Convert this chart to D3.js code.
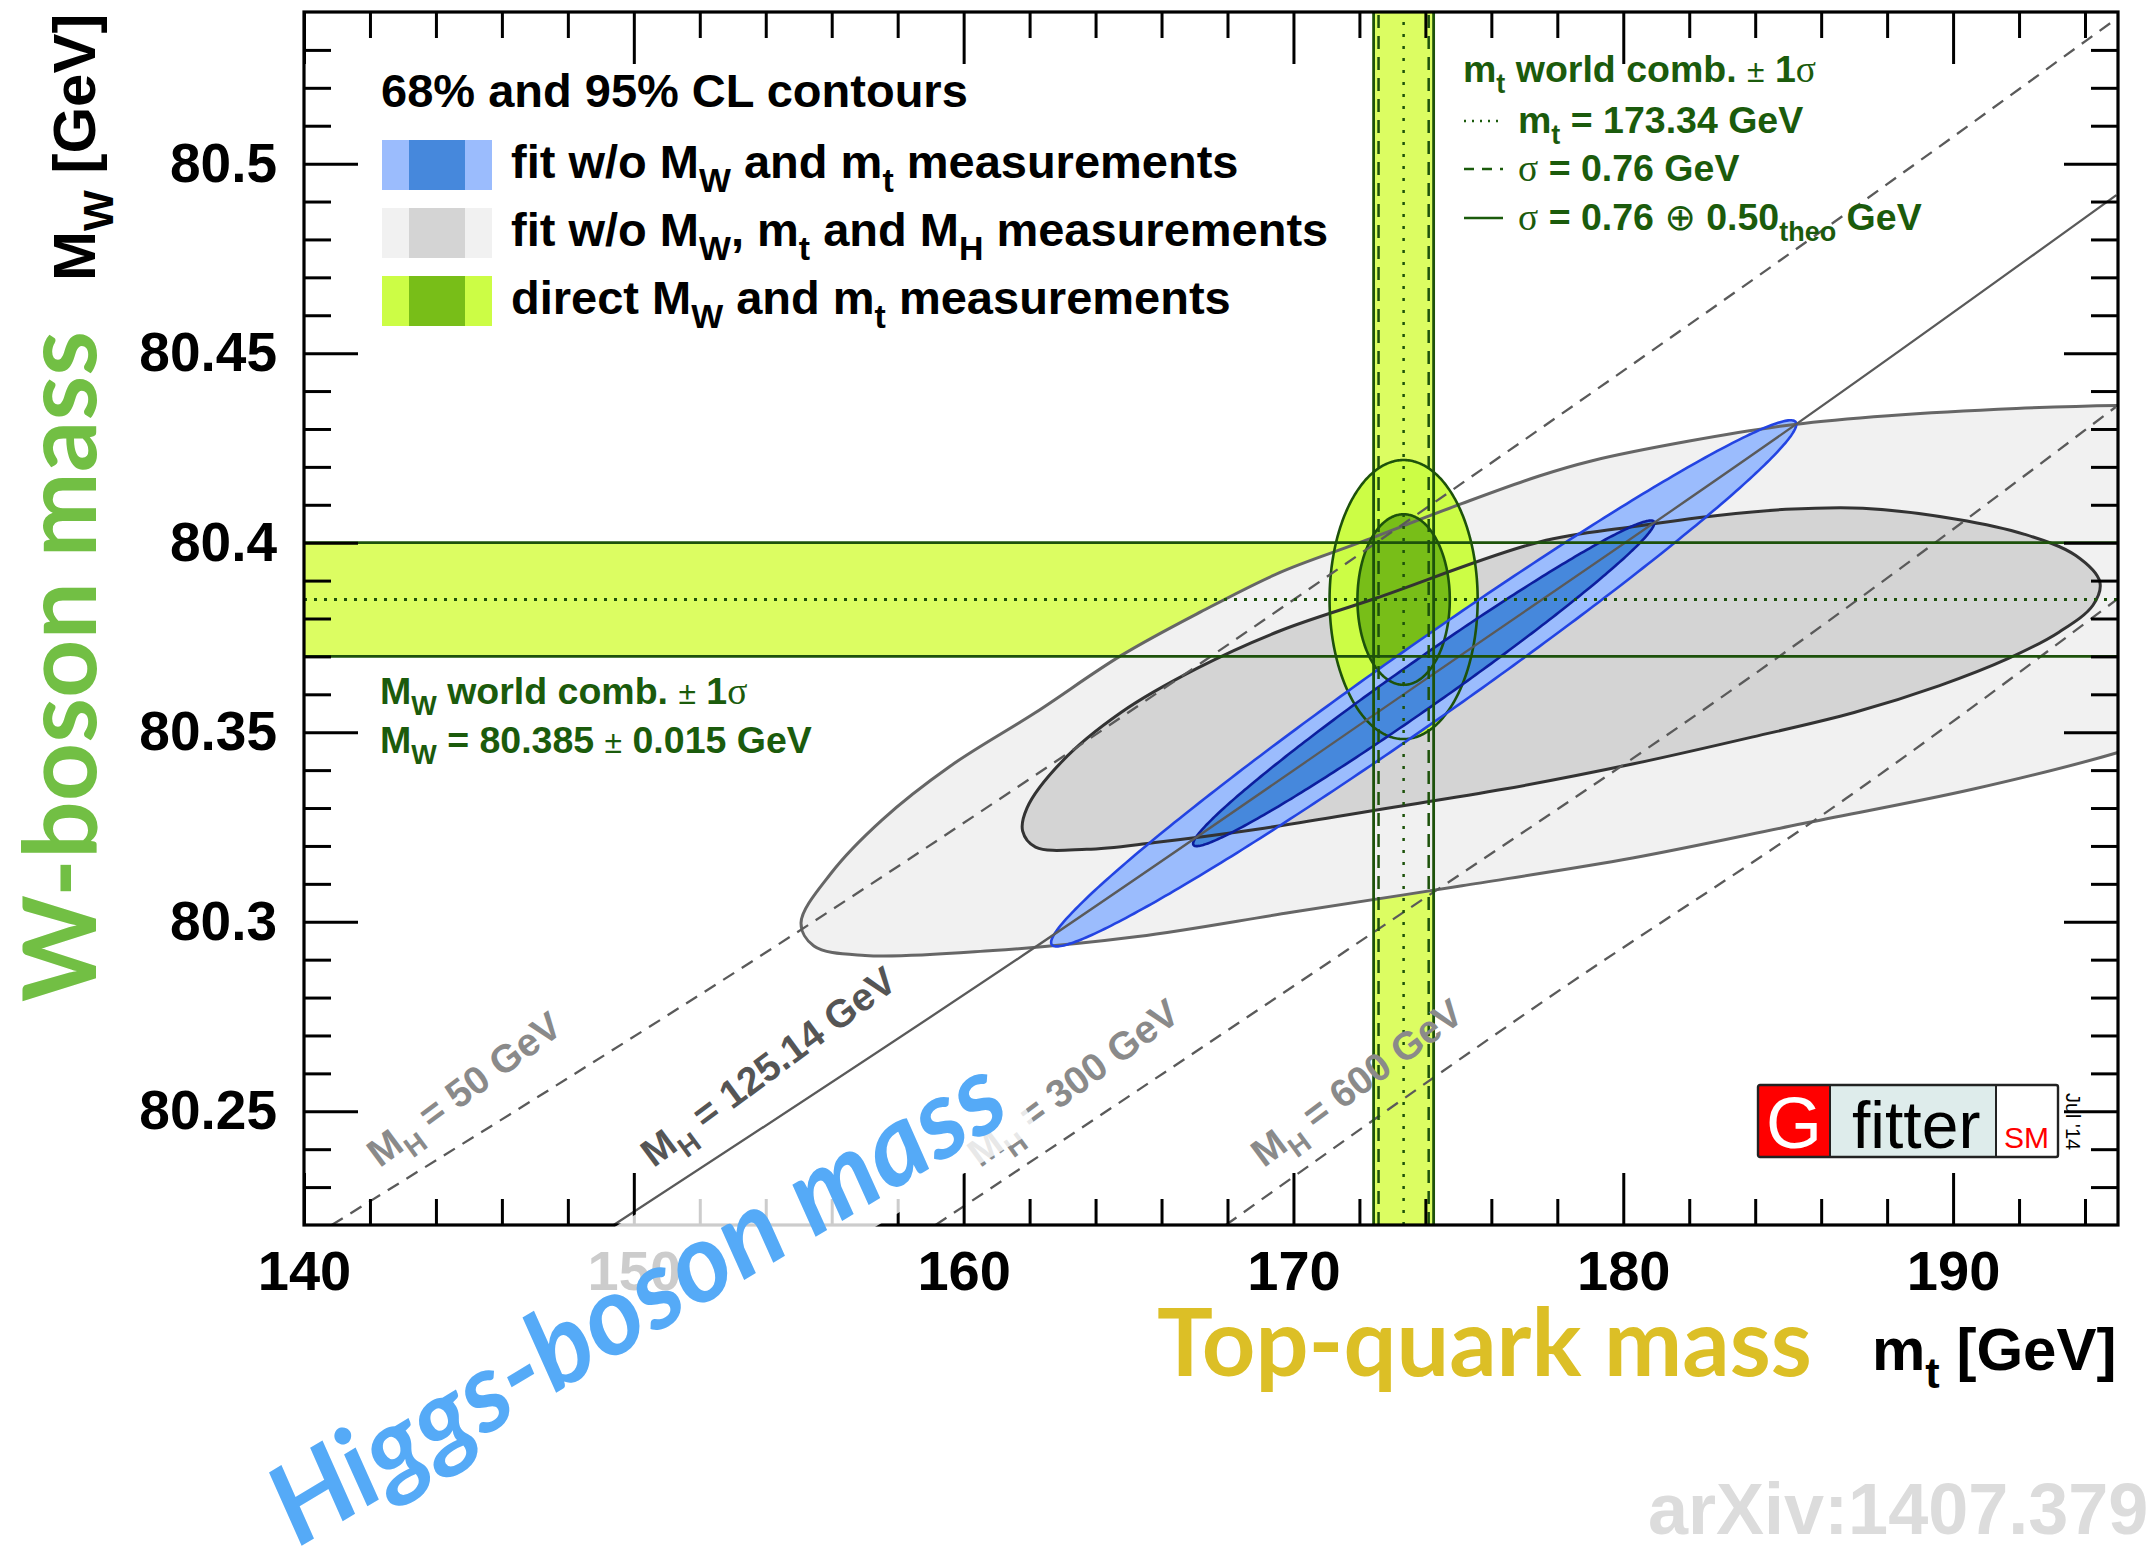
<!DOCTYPE html>
<html>
<head>
<meta charset="utf-8">
<script src="https://cdn.jsdelivr.net/npm/d3@7"></script>
<style>
  html, body { margin: 0; padding: 0; background: #ffffff; overflow: hidden; }
  svg { display: block; }
</style>
</head>
<body>
<svg id="chart" width="2149" height="1552"></svg>
<script>
// ---------------- data ----------------
const mtDomain = [140, 195];
const mwDomain = [80.22, 80.54];
const mtMajorTicks = [140, 150, 160, 170, 180, 190];
const mtTickLabels = ["140", "150", "160", "170", "180", "190"];
const mtMinorTicks = [142, 144, 146, 148, 152, 154, 156, 158, 162, 164, 166, 168, 172, 174, 176, 178,
                      182, 184, 186, 188, 192, 194];
const mwMajorTicks = [80.25, 80.3, 80.35, 80.4, 80.45, 80.5];
const mwTickLabels = ["80.25", "80.3", "80.35", "80.4", "80.45", "80.5"];
const mwMinorTicks = [80.23, 80.24, 80.26, 80.27, 80.28, 80.29, 80.31, 80.32, 80.33, 80.34, 80.36, 80.37,
                      80.38, 80.39, 80.41, 80.42, 80.43, 80.44, 80.46, 80.47, 80.48, 80.49, 80.51, 80.52, 80.53];

// world averages
const mwWorld = { value: 80.385, sigma: 0.015 };
const mtWorld = { value: 173.34, sigmaExp: 0.76, sigmaTot: 0.91 };

// direct MW / mt measurement contours: half widths [GeV]
const directContours = [
  { cl: 95, dMt: 2.245, dMw: 0.0368 },
  { cl: 68, dMt: 1.40,  dMw: 0.0225 }
];

// fit without MW and mt measurements (gaussian)
const fitNoMwMt = { mt: 173.95, mw: 80.3629, sigmaMt: 4.615, sigmaMw: 0.02835, rho: 0.9847 };
const clRadius = { 68: 1.515, 95: 2.448 };

// fit without MW, mt and MH measurements: contour points [mt, MW]
const fitNoMH95 = [
  [197.5, 80.4362], [194.97, 80.4362], [191.92, 80.4354], [188.04, 80.4335], [185.19, 80.4312],
  [182.0, 80.4268], [179.0, 80.4215], [177.45, 80.4176], [175.1, 80.4103], [172.0, 80.4000],
  [169.58, 80.3921], [167.2, 80.3818], [164.77, 80.3702], [162.18, 80.3552], [159.60, 80.3411],
  [157.53, 80.3269], [155.98, 80.3128], [155.07, 80.2997], [155.46, 80.2936], [157.01, 80.2911],
  [160.89, 80.2924], [165.28, 80.2961], [169.94, 80.3025], [175.11, 80.3095], [180.28, 80.3168],
  [185.45, 80.3259], [190.62, 80.3350], [194.97, 80.3446], [198.5, 80.3550], [200.0, 80.3900],
  [199.5, 80.4200]
];
const fitNoMH68 = [
  [187.26, 80.4091], [190.10, 80.4062], [192.17, 80.4022], [193.72, 80.3966], [194.45, 80.3896],
  [194.24, 80.3835], [193.21, 80.3764], [191.66, 80.3694], [189.59, 80.3623], [187.00, 80.3552],
  [183.90, 80.3487], [180.28, 80.3416], [176.40, 80.3350], [172.52, 80.3295], [168.90, 80.3244],
  [165.80, 80.3209], [163.73, 80.3191], [162.18, 80.3197], [161.79, 80.3239], [161.92, 80.3300],
  [162.96, 80.3421], [164.77, 80.3552], [167.09, 80.3669], [169.58, 80.3767], [172.52, 80.3854],
  [177.46, 80.4002], [180.28, 80.4042], [182.86, 80.4072], [184.93, 80.4088]
];

// SM prediction of MW versus mt for fixed Higgs masses
const higgsLines = [
  { mh: "50",     dashed: true,  labelColor: "#8a8a8a", labelAt: [142.3, 80.235],
    pts: [[140.84, 80.22], [154.2, 80.293], [179.63, 80.4431], [184.73, 80.4743], [194.93, 80.5381]] },
  { mh: "125.14", dashed: false, labelColor: "#555555", labelAt: [150.6, 80.235],
    pts: [[149.39, 80.22], [162.05, 80.2926], [173.95, 80.3636], [185.33, 80.4318], [194.95, 80.4917]] },
  { mh: "300",    dashed: true,  labelColor: "#8a8a8a", labelAt: [160.5, 80.235],
    pts: [[159.15, 80.22], [171.64, 80.2926], [184.73, 80.3700], [194.93, 80.4358]] },
  { mh: "600",    dashed: true,  labelColor: "#8a8a8a", labelAt: [169.1, 80.235],
    pts: [[167.95, 80.22], [177.66, 80.2795], [186.75, 80.3325], [194.93, 80.3848]] }
];

// ---------------- layout & styles ----------------
const plot = { left: 304, right: 2118, top: 12, bottom: 1225 };
const SANS = "'Liberation Sans', Arial, Helvetica, sans-serif";
const SERIF = "'Liberation Serif', 'Times New Roman', serif";
const TITLE = "Lato, 'Open Sans', sans-serif";
const GREEN_TXT = "#1b5b0c";
const col = {
  band: "#dcfd62", bandLine: "#1d520b",
  green95: "#ccfd45", green68: "#78be18", greenLine: "#1d520b",
  blue95: "#9bbcfd", blue68: "#4688dc", blueLine95: "#2344e2", blueLine68: "#0c1e9e",
  gray95: "#f1f1f1", gray68: "#d4d4d4", grayLine95: "#666666", grayLine68: "#333333",
  mhLine: "#5a5a5a"
};

const svg = d3.select("#chart");
const x = d3.scaleLinear().domain(mtDomain).range([plot.left, plot.right]);
const y = d3.scaleLinear().domain(mwDomain).range([plot.bottom, plot.top]);

svg.append("defs").append("clipPath").attr("id", "plotClip")
  .append("rect").attr("x", plot.left).attr("y", plot.top)
  .attr("width", plot.right - plot.left).attr("height", plot.bottom - plot.top);

const area = svg.append("g").attr("clip-path", "url(#plotClip)");

// ----- world-average bands (fills) -----
area.append("rect")
  .attr("x", x(mtDomain[0])).attr("width", x(mtDomain[1]) - x(mtDomain[0]))
  .attr("y", y(mwWorld.value + mwWorld.sigma))
  .attr("height", y(mwWorld.value - mwWorld.sigma) - y(mwWorld.value + mwWorld.sigma))
  .attr("fill", col.band);
area.append("rect")
  .attr("x", x(mtWorld.value - mtWorld.sigmaTot))
  .attr("width", x(mtWorld.value + mtWorld.sigmaTot) - x(mtWorld.value - mtWorld.sigmaTot))
  .attr("y", y(mwDomain[1])).attr("height", y(mwDomain[0]) - y(mwDomain[1]))
  .attr("fill", col.band);

// ----- contour shapes -----
const closedSmooth = d3.line().x(d => x(d[0])).y(d => y(d[1])).curve(d3.curveCatmullRomClosed.alpha(0.5));
const closedLin = d3.line().x(d => x(d[0])).y(d => y(d[1])).curve(d3.curveLinearClosed);

function gaussContour(c, k, n = 360) {
  const s = Math.sqrt(1 - c.rho * c.rho);
  return d3.range(n).map(i => {
    const t = 2 * Math.PI * i / n;
    return [c.mt + k * c.sigmaMt * Math.cos(t),
            c.mw + k * c.sigmaMw * (c.rho * Math.cos(t) + s * Math.sin(t))];
  });
}
function axisContour(cx, cy, a, b, n = 360) {
  return d3.range(n).map(i => {
    const t = 2 * Math.PI * i / n;
    return [cx + a * Math.cos(t), cy + b * Math.sin(t)];
  });
}

const shapes = [
  { d: closedSmooth(fitNoMH95), fill: col.gray95, stroke: col.grayLine95, w: 3 },
  { d: closedSmooth(fitNoMH68), fill: col.gray68, stroke: col.grayLine68, w: 3 },
  { d: closedLin(axisContour(mtWorld.value, mwWorld.value, directContours[0].dMt, directContours[0].dMw)),
    fill: col.green95, stroke: col.greenLine, w: 2.6 },
  { d: closedLin(axisContour(mtWorld.value, mwWorld.value, directContours[1].dMt, directContours[1].dMw)),
    fill: col.green68, stroke: col.greenLine, w: 2.6 },
  { d: closedLin(gaussContour(fitNoMwMt, clRadius[95])), fill: col.blue95, stroke: col.blueLine95, w: 2.6 },
  { d: closedLin(gaussContour(fitNoMwMt, clRadius[68])), fill: col.blue68, stroke: col.blueLine68, w: 2.6 }
];
area.selectAll("path.fill").data(shapes).join("path").attr("class", "fill")
  .attr("d", s => s.d).attr("fill", s => s.fill).attr("stroke", "none");
area.selectAll("path.outline").data(shapes).join("path").attr("class", "outline")
  .attr("d", s => s.d).attr("fill", "none").attr("stroke", s => s.stroke).attr("stroke-width", s => s.w);

// ----- Higgs-mass lines -----
const openLine = d3.line().x(d => x(d[0])).y(d => y(d[1])).curve(d3.curveMonotoneX);
area.selectAll("path.mh").data(higgsLines).join("path").attr("class", "mh")
  .attr("d", d => openLine(d.pts)).attr("fill", "none")
  .attr("stroke", col.mhLine).attr("stroke-width", 2.3)
  .attr("stroke-dasharray", d => d.dashed ? "13,9" : null);

// ----- band boundary lines -----
const hLines = [
  { v: mwWorld.value + mwWorld.sigma, dash: null },
  { v: mwWorld.value - mwWorld.sigma, dash: null },
  { v: mwWorld.value, dash: "3,7" }
];
area.selectAll("line.h").data(hLines).join("line").attr("class", "h")
  .attr("x1", x(mtDomain[0])).attr("x2", x(mtDomain[1]))
  .attr("y1", d => y(d.v)).attr("y2", d => y(d.v))
  .attr("stroke", col.bandLine).attr("stroke-width", d => d.dash ? 3 : 2.8)
  .attr("stroke-dasharray", d => d.dash);
const vLines = [
  { v: mtWorld.value - mtWorld.sigmaTot, dash: null },
  { v: mtWorld.value + mtWorld.sigmaTot, dash: null },
  { v: mtWorld.value - mtWorld.sigmaExp, dash: "13,8" },
  { v: mtWorld.value + mtWorld.sigmaExp, dash: "13,8" },
  { v: mtWorld.value, dash: "3,9" }
];
area.selectAll("line.v").data(vLines).join("line").attr("class", "v")
  .attr("y1", y(mwDomain[0])).attr("y2", y(mwDomain[1]))
  .attr("x1", d => x(d.v)).attr("x2", d => x(d.v))
  .attr("stroke", col.bandLine).attr("stroke-width", d => d.dash ? 2.5 : 2.8)
  .attr("stroke-dasharray", d => d.dash);

// ----- rich text helper (subscripts, mixed fonts) -----
function rich(parent, px, py, parts, size, color, extra) {
  const t = parent.append("text").attr("x", px).attr("y", py)
    .attr("font-family", SANS).attr("font-weight", "bold")
    .attr("font-size", size).attr("fill", color);
  if (extra) extra(t);
  let shifted = 0;
  parts.forEach(p => {
    const sp = t.append("tspan").text(p.t);
    const target = p.sub ? Math.round(size * 0.3) : 0;
    if (target !== shifted) { sp.attr("dy", target - shifted); shifted = target; }
    if (p.sub) sp.attr("font-size", size * (p.subScale || 0.72));
    if (p.size) sp.attr("font-size", size * p.size);
    if (p.serif) sp.attr("font-family", SERIF).attr("font-weight", "normal");
    if (p.normal) sp.attr("font-weight", "normal");
    if (p.family) sp.attr("font-family", p.family);
  });
  return t;
}

// ----- MH line labels -----
higgsLines.forEach(d => {
  rich(svg, 0, 0, [{ t: "M" }, { t: "H", sub: true }, { t: " = " + d.mh + " GeV" }], 39, d.labelColor,
    t => t.attr("transform", `translate(${x(d.labelAt[0])},${y(d.labelAt[1])}) rotate(-36.5)`));
});

// ----- frame and ticks -----
const frame = svg.append("g");
function tickAxis(axisFn, scale, values, size, tx, ty) {
  frame.append("g").attr("transform", `translate(${tx},${ty})`)
    .call(axisFn(scale).tickValues(values).tickSizeInner(-size).tickSizeOuter(0).tickFormat(""))
    .call(g => g.select(".domain").remove())
    .call(g => g.selectAll("line").attr("stroke", "#000").attr("stroke-width", 3));
}
tickAxis(d3.axisBottom, x, mtMajorTicks, 52, 0, plot.bottom);
tickAxis(d3.axisBottom, x, mtMinorTicks, 26, 0, plot.bottom);
tickAxis(d3.axisTop, x, mtMajorTicks, 52, 0, plot.top);
tickAxis(d3.axisTop, x, mtMinorTicks, 26, 0, plot.top);
tickAxis(d3.axisLeft, y, mwMajorTicks, 54, plot.left, 0);
tickAxis(d3.axisLeft, y, mwMinorTicks, 27, plot.left, 0);
tickAxis(d3.axisRight, y, mwMajorTicks, 54, plot.right, 0);
tickAxis(d3.axisRight, y, mwMinorTicks, 27, plot.right, 0);
frame.append("rect").attr("x", plot.left).attr("y", plot.top)
  .attr("width", plot.right - plot.left).attr("height", plot.bottom - plot.top)
  .attr("fill", "none").attr("stroke", "#000").attr("stroke-width", 3.2);

// tick labels
frame.append("g").attr("transform", `translate(0,${plot.bottom})`)
  .call(d3.axisBottom(x).tickValues(mtMajorTicks).tickSize(0).tickPadding(25)
    .tickFormat((d, i) => mtTickLabels[i]))
  .call(g => g.select(".domain").remove())
  .call(g => g.selectAll("text").attr("font-family", SANS).attr("font-weight", "bold")
    .attr("font-size", 56).attr("fill", "#000"));
frame.append("g").attr("transform", `translate(${plot.left},0)`)
  .call(d3.axisLeft(y).tickValues(mwMajorTicks).tickSize(0).tickPadding(27)
    .tickFormat((d, i) => mwTickLabels[i]))
  .call(g => g.select(".domain").remove())
  .call(g => g.selectAll("text").attr("font-family", SANS).attr("font-weight", "bold")
    .attr("font-size", 55).attr("fill", "#000"));

// ----- legend -----
const legend = svg.append("g");
legend.append("text").attr("x", 381).attr("y", 107)
  .attr("font-family", SANS).attr("font-weight", "bold").attr("font-size", 47)
  .text("68% and 95% CL contours");
const legendEntries = [
  { light: col.blue95,  dark: col.blue68,  y: 140,
    parts: [{ t: "fit w/o M" }, { t: "W", sub: true }, { t: " and m" }, { t: "t", sub: true }, { t: " measurements" }] },
  { light: col.gray95,  dark: col.gray68,  y: 208,
    parts: [{ t: "fit w/o M" }, { t: "W", sub: true }, { t: ", m" }, { t: "t", sub: true }, { t: " and M" },
            { t: "H", sub: true }, { t: " measurements" }] },
  { light: col.green95, dark: col.green68, y: 276,
    parts: [{ t: "direct M" }, { t: "W", sub: true }, { t: " and m" }, { t: "t", sub: true }, { t: " measurements" }] }
];
legendEntries.forEach(e => {
  legend.append("rect").attr("x", 382).attr("y", e.y).attr("width", 110).attr("height", 50).attr("fill", e.light);
  legend.append("rect").attr("x", 409).attr("y", e.y).attr("width", 56).attr("height", 50).attr("fill", e.dark);
  rich(legend, 511, e.y + 38, e.parts, 47, "#000");
});

// ----- world-average annotations -----
const ann = svg.append("g");
const GS = 37.5;
rich(ann, 1463, 82, [{ t: "m" }, { t: "t", sub: true }, { t: " world comb.  " }, { t: "±", normal: true, size: 0.85 },
  { t: " 1" }, { t: "σ", serif: true }], GS, GREEN_TXT);
rich(ann, 1518, 133, [{ t: "m" }, { t: "t", sub: true }, { t: " = " + mtWorld.value.toFixed(2) + " GeV" }], GS, GREEN_TXT);
rich(ann, 1518, 181, [{ t: "σ", serif: true }, { t: " = " + mtWorld.sigmaExp.toFixed(2) + " GeV" }], GS, GREEN_TXT);
rich(ann, 1518, 230, [{ t: "σ", serif: true }, { t: " = " + mtWorld.sigmaExp.toFixed(2) + " " },
  { t: "⊕", normal: true, family: "'DejaVu Sans', sans-serif" }, { t: " 0.50" }, { t: "theo", sub: true },
  { t: " GeV" }], GS, GREEN_TXT);
const keys = [
  { y: 121, dash: "2,6", w: 2.5 },
  { y: 169, dash: "10,8", w: 2.5 },
  { y: 218, dash: null, w: 2.5 }
];
ann.selectAll("line.key").data(keys).join("line").attr("class", "key")
  .attr("x1", 1464).attr("x2", 1503).attr("y1", d => d.y).attr("y2", d => d.y)
  .attr("stroke", GREEN_TXT).attr("stroke-width", d => d.w).attr("stroke-dasharray", d => d.dash);

rich(ann, 380, 704, [{ t: "M" }, { t: "W", sub: true }, { t: " world comb.  " }, { t: "±", normal: true, size: 0.85 },
  { t: " 1" }, { t: "σ", serif: true }], GS, GREEN_TXT);
rich(ann, 380, 753, [{ t: "M" }, { t: "W", sub: true }, { t: " = " + mwWorld.value.toFixed(3) + " " },
  { t: "±", normal: true, size: 0.85 }, { t: " " + mwWorld.sigma.toFixed(3) + " GeV" }], GS, GREEN_TXT);

// ----- axis titles -----
function fitWidth(sel, target) {
  const size = +sel.attr("font-size");
  const w = sel.node().getComputedTextLength();
  sel.attr("font-size", size * target / w);
}
const titles = svg.append("g");
rich(titles, 0, 0, [{ t: "M" }, { t: "W", sub: true }, { t: "  [GeV]" }], 60, "#000",
  t => t.attr("transform", "translate(95,281) rotate(-90)"));
fitWidth(titles.append("text").attr("transform", "translate(96,1002) rotate(-90)")
  .attr("font-family", TITLE).attr("font-weight", "bold").attr("font-size", 100)
  .attr("fill", "#72bf44").text("W-boson mass"), 671);
fitWidth(titles.append("text").attr("x", 1157).attr("y", 1376)
  .attr("font-family", TITLE).attr("font-weight", "bold").attr("font-size", 90)
  .attr("fill", "#dcbf26").text("Top-quark mass"), 655);
rich(titles, 1872, 1370, [{ t: "m" }, { t: "t", sub: true }, { t: " [GeV]" }], 60, "#000");

svg.append("text").attr("x", 1648).attr("y", 1534)
  .attr("font-family", SANS).attr("font-weight", "bold").attr("font-size", 72)
  .attr("fill", "#dcdcdc").text("arXiv:1407.3792");

// ----- Gfitter logo -----
const logo = svg.append("g").attr("transform", "translate(1758,1085)");
logo.append("rect").attr("x", 0).attr("y", 0).attr("width", 72).attr("height", 72).attr("fill", "#ff0000");
logo.append("rect").attr("x", 72).attr("y", 0).attr("width", 166).attr("height", 72).attr("fill", "#deeceb");
logo.append("rect").attr("x", 238).attr("y", 0).attr("width", 62).attr("height", 72).attr("fill", "#ffffff");
logo.append("rect").attr("x", 0).attr("y", 0).attr("width", 300).attr("height", 72).attr("rx", 2)
  .attr("fill", "none").attr("stroke", "#222").attr("stroke-width", 2.4);
logo.append("line").attr("x1", 72).attr("x2", 72).attr("y1", 0).attr("y2", 72).attr("stroke", "#222").attr("stroke-width", 2);
logo.append("line").attr("x1", 238).attr("x2", 238).attr("y1", 0).attr("y2", 72).attr("stroke", "#222").attr("stroke-width", 2);
logo.append("text").attr("x", 36).attr("y", 63).attr("text-anchor", "middle")
  .attr("font-family", SANS).attr("font-size", 72).attr("fill", "#fff").text("G");
logo.append("text").attr("x", 94).attr("y", 63)
  .attr("font-family", SANS).attr("font-size", 66).attr("fill", "#000").text("fitter");
logo.append("text").attr("x", 246).attr("y", 63)
  .attr("font-family", SANS).attr("font-size", 30).attr("fill", "#ff0000").text("SM");
logo.append("text").attr("transform", "translate(308,8) rotate(90)")
  .attr("font-family", SANS).attr("font-size", 20).attr("fill", "#000").text("Jul '14");

// ----- Higgs-boson mass title with translucent backing -----
const hg = svg.append("g").attr("transform", "translate(298,1548) rotate(-31)");
hg.append("rect").attr("x", -30).attr("y", -112).attr("width", 880).attr("height", 134)
  .attr("fill", "#ffffff").attr("fill-opacity", 0.8);
fitWidth(hg.append("text").attr("x", 0).attr("y", 0)
  .attr("font-family", TITLE).attr("font-weight", "bold").attr("font-style", "italic")
  .attr("font-size", 98).attr("fill", "#55aaf7").text("Higgs-boson mass"), 836);
</script>
</body>
</html>
